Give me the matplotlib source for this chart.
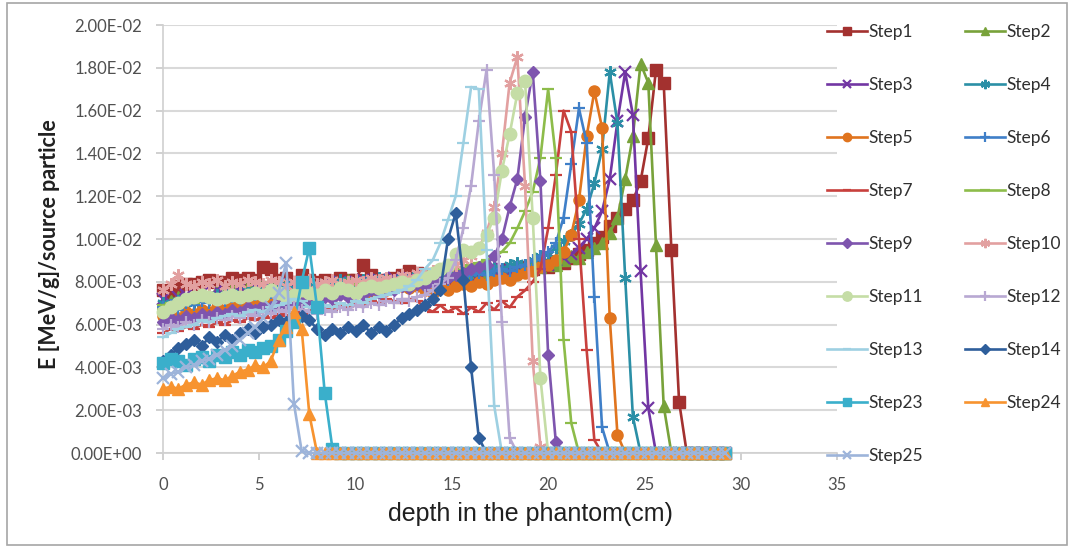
import matplotlib
matplotlib.use("Agg")
import matplotlib.pyplot as plt
from matplotlib.ticker import FuncFormatter, MultipleLocator
from matplotlib.patches import Rectangle
import numpy as np

# depth grid (cm)
depth_cm = [0.0, 0.4, 0.8, 1.2, 1.6, 2.0, 2.4, 2.8, 3.2, 3.6,
            4.0, 4.4, 4.8, 5.2, 5.6, 6.0, 6.4, 6.8, 7.2, 7.6,
            8.0, 8.4, 8.8, 9.2, 9.6, 10.0, 10.4, 10.8, 11.2, 11.6,
            12.0, 12.4, 12.8, 13.2, 13.6, 14.0, 14.4, 14.8, 15.2, 15.6,
            16.0, 16.4, 16.8, 17.2, 17.6, 18.0, 18.4, 18.8, 19.2, 19.6,
            20.0, 20.4, 20.8, 21.2, 21.6, 22.0, 22.4, 22.8, 23.2, 23.6,
            24.0, 24.4, 24.8, 25.2, 25.6, 26.0, 26.4, 26.8, 27.2, 27.6,
            28.0, 28.4, 28.8, 29.2]

# energy deposit, in units of 1E-03 MeV/g per source particle
step1 = [7.6, 7.5, 7.8, 7.9, 7.9, 8.0, 8.1, 8.0, 8.0, 8.2,
         8.1, 8.2, 8.1, 8.7, 8.6, 8.1, 8.2, 8.0, 8.3, 8.1,
         8.0, 8.1, 8.0, 8.2, 8.1, 8.1, 8.8, 8.3, 8.0, 8.1,
         8.2, 8.3, 8.5, 8.4, 8.2, 8.3, 8.2, 8.3, 8.2, 8.3,
         8.3, 8.4, 8.3, 8.5, 8.4, 8.6, 8.5, 8.7, 8.6, 8.8,
         8.7, 8.9, 8.9, 9.1, 9.3, 9.5, 9.8, 10.1, 10.6, 11.0,
         11.4, 11.8, 12.7, 14.7, 17.9, 17.3, 9.5, 2.4, 0, 0,
         0, 0, 0, 0]
step2 = [7.0, 7.1, 7.3, 7.2, 7.4, 7.5, 7.4, 7.6, 7.5, 7.7,
         7.6, 7.8, 7.7, 7.9, 7.8, 7.7, 7.9, 7.8, 8.0, 7.9,
         7.8, 7.9, 8.0, 7.9, 8.1, 8.0, 8.0, 8.1, 8.0, 8.2,
         8.1, 8.2, 8.1, 8.2, 8.3, 8.2, 8.3, 8.4, 8.3, 8.4,
         8.4, 8.5, 8.4, 8.6, 8.5, 8.7, 8.6, 8.7, 8.8, 8.7,
         8.9, 8.8, 9.0, 9.2, 9.1, 9.4, 9.6, 9.8, 10.3, 11.0,
         12.8, 14.8, 18.2, 17.3, 9.7, 2.2, 0, 0, 0, 0,
         0, 0, 0, 0]
step3 = [7.2, 7.0, 7.3, 7.4, 7.2, 7.5, 7.3, 7.6, 7.4, 7.5,
         7.7, 7.5, 7.8, 7.6, 7.7, 7.9, 7.6, 7.8, 7.7, 7.9,
         7.8, 7.7, 7.9, 8.0, 7.8, 8.0, 8.1, 7.9, 8.1, 8.0,
         8.2, 8.1, 8.2, 8.0, 8.3, 8.2, 8.3, 8.2, 8.4, 8.3,
         8.4, 8.3, 8.5, 8.4, 8.6, 8.5, 8.6, 8.7, 8.6, 8.8,
         8.8, 9.0, 9.1, 9.3, 9.6, 10.0, 10.5, 11.3, 12.8, 15.5,
         17.8, 15.8, 8.5, 2.1, 0, 0, 0, 0, 0, 0,
         0, 0, 0, 0]
step4 = [7.0, 6.9, 7.1, 7.2, 7.0, 7.3, 7.2, 7.4, 7.3, 7.5,
         7.4, 7.6, 7.5, 7.7, 7.6, 7.8, 7.9, 7.7, 7.8, 7.9,
         7.8, 8.0, 7.9, 8.1, 8.0, 7.9, 8.1, 8.0, 8.2, 8.1,
         8.0, 8.2, 8.1, 8.3, 8.2, 8.3, 8.4, 8.3, 8.4, 8.5,
         8.4, 8.6, 8.5, 8.7, 8.6, 8.8, 8.9, 8.8, 9.0, 9.2,
         9.3, 9.6, 9.9, 10.2, 10.7, 11.4, 12.6, 14.2, 17.8, 15.4,
         8.2, 1.7, 0, 0, 0, 0, 0, 0, 0, 0,
         0, 0, 0, 0]
step5 = [6.4, 6.5, 6.3, 6.6, 6.5, 6.7, 6.6, 6.8, 6.7, 6.9,
         6.8, 7.0, 6.9, 7.1, 7.0, 7.2, 7.1, 7.3, 7.2, 7.3,
         7.2, 7.4, 7.3, 7.5, 7.4, 7.5, 7.6, 7.5, 7.7, 7.6,
         7.7, 7.8, 7.7, 7.8, 7.6, 7.5, 7.7, 7.6, 7.8, 7.9,
         7.8, 8.0, 7.9, 8.1, 8.2, 8.1, 8.3, 8.4, 8.5, 8.7,
         8.8, 9.0, 9.4, 10.2, 11.8, 14.8, 16.9, 15.2, 6.3, 0.85,
         0, 0, 0, 0, 0, 0, 0, 0, 0, 0,
         0, 0, 0, 0]
step6 = [6.8, 6.9, 6.7, 7.0, 6.9, 7.1, 7.0, 7.2, 7.1, 7.3,
         7.2, 7.3, 7.4, 7.2, 7.5, 7.4, 7.6, 7.5, 7.4, 7.6,
         7.5, 7.7, 7.6, 7.8, 7.7, 7.6, 7.8, 7.7, 7.9, 7.8,
         7.9, 8.0, 7.9, 8.0, 8.1, 8.0, 8.2, 8.1, 8.3, 8.2,
         8.3, 8.4, 8.3, 8.5, 8.6, 8.5, 8.7, 8.8, 9.0, 9.2,
         9.4, 9.8, 11.0, 13.5, 16.1, 14.5, 7.3, 1.2, 0, 0,
         0, 0, 0, 0, 0, 0, 0, 0, 0, 0,
         0, 0, 0, 0]
step7 = [5.6, 5.8, 5.7, 5.9, 5.8, 6.0, 5.9, 6.1, 6.0, 6.2,
         6.1, 6.3, 6.2, 6.4, 6.3, 6.5, 6.4, 6.6, 6.5, 6.7,
         6.6, 6.8, 6.7, 6.9, 6.8, 7.0, 6.9, 7.1, 7.0, 7.2,
         7.1, 7.0, 7.2, 7.1, 6.8, 6.6, 6.9, 6.6, 6.8, 6.5,
         6.8, 6.6, 7.0, 6.7, 7.1, 6.8, 7.3, 7.6, 8.0, 8.6,
         10.5, 13.0, 16.0, 15.0, 10.0, 4.8, 0.6, 0, 0, 0,
         0, 0, 0, 0, 0, 0, 0, 0, 0, 0,
         0, 0, 0, 0]
step8 = [6.9, 7.0, 6.8, 7.1, 7.0, 7.2, 7.1, 7.3, 7.2, 7.4,
         7.3, 7.5, 7.4, 7.6, 7.5, 7.4, 7.6, 7.5, 7.7, 7.6,
         7.7, 7.8, 7.6, 7.8, 7.7, 7.9, 7.8, 8.0, 7.9, 8.1,
         8.0, 8.1, 8.2, 8.1, 8.3, 8.2, 8.4, 8.5, 8.6, 8.7,
         8.8, 8.9, 9.0, 9.2, 9.4, 9.8, 10.5, 11.3, 12.2, 13.8,
         17.0, 13.8, 5.3, 1.4, 0, 0, 0, 0, 0, 0,
         0, 0, 0, 0, 0, 0, 0, 0, 0, 0,
         0, 0, 0, 0]
step9 = [6.1, 6.3, 6.2, 6.4, 6.3, 6.5, 6.4, 6.6, 6.5, 6.7,
         6.6, 6.8, 6.7, 6.9, 6.8, 7.0, 6.9, 7.1, 7.0, 7.2,
         7.1, 7.3, 7.2, 7.4, 7.3, 7.5, 7.4, 7.6, 7.5, 7.7,
         7.6, 7.8, 7.7, 7.9, 7.8, 8.0, 8.1, 8.2, 8.3, 8.4,
         8.6, 8.7, 8.8, 9.2, 10.0, 11.5, 12.8, 15.7, 17.8, 12.7,
         4.6, 0.5, 0, 0, 0, 0, 0, 0, 0, 0,
         0, 0, 0, 0, 0, 0, 0, 0, 0, 0,
         0, 0, 0, 0]
step10 = [7.6, 7.9, 8.3, 7.9, 7.8, 8.0, 7.9, 8.1, 7.8, 8.0,
          7.9, 8.1, 8.0, 7.9, 8.1, 8.0, 7.8, 8.0, 7.9, 8.1,
          7.9, 8.0, 8.1, 7.9, 8.0, 8.1, 8.0, 8.2, 8.1, 8.2,
          8.1, 8.3, 8.2, 8.4, 8.3, 8.5, 8.6, 8.7, 8.8, 9.0,
          9.2, 9.6, 10.3, 11.5, 14.0, 17.3, 18.5, 12.5, 4.3, 0.3,
          0, 0, 0, 0, 0, 0, 0, 0, 0, 0,
          0, 0, 0, 0, 0, 0, 0, 0, 0, 0,
          0, 0, 0, 0]
step11 = [6.6, 6.8, 7.0, 7.2, 7.3, 7.4, 7.3, 7.2, 7.3, 7.4,
          7.3, 7.4, 7.5, 7.4, 7.6, 7.5, 7.3, 7.4, 7.6, 7.5,
          7.4, 7.6, 7.5, 7.7, 7.6, 7.5, 7.7, 7.8, 7.7, 7.8,
          7.9, 8.0, 7.9, 8.1, 8.2, 8.4, 8.6, 8.8, 9.3, 9.5,
          9.4, 9.6, 10.2, 11.0, 13.2, 14.9, 16.8, 17.4, 11.0, 3.5,
          0, 0, 0, 0, 0, 0, 0, 0, 0, 0,
          0, 0, 0, 0, 0, 0, 0, 0, 0, 0,
          0, 0, 0, 0]
step12 = [5.8, 6.0, 5.9, 6.1, 6.0, 6.2, 6.1, 6.3, 6.2, 6.4,
          6.3, 6.5, 6.4, 6.6, 6.5, 6.7, 6.6, 6.8, 6.7, 6.6,
          6.5, 6.7, 6.6, 6.8, 6.7, 6.9, 6.8, 7.0, 6.9, 7.1,
          7.0, 7.2, 7.1, 7.3, 7.4, 7.6, 7.9, 8.2, 9.0, 10.5,
          12.5, 15.5, 17.9, 13.0, 6.1, 0.7, 0, 0, 0, 0,
          0, 0, 0, 0, 0, 0, 0, 0, 0, 0,
          0, 0, 0, 0, 0, 0, 0, 0, 0, 0,
          0, 0, 0, 0]
step13 = [5.4, 5.6, 5.8, 5.9, 6.0, 6.2, 6.1, 6.3, 6.4, 6.5,
          6.4, 6.6, 6.7, 6.6, 6.8, 6.9, 7.0, 7.2, 7.1, 6.8,
          6.7, 6.9, 6.8, 7.0, 6.9, 7.1, 7.0, 7.2, 7.3, 7.4,
          7.5, 7.6, 7.8, 8.1, 8.6, 9.0, 9.8, 10.9, 12.0, 14.5,
          17.1, 17.0, 9.5, 2.2, 0, 0, 0, 0, 0, 0,
          0, 0, 0, 0, 0, 0, 0, 0, 0, 0,
          0, 0, 0, 0, 0, 0, 0, 0, 0, 0,
          0, 0, 0, 0]
step14 = [4.3, 4.6, 4.9, 5.1, 5.3, 5.0, 5.4, 5.2, 5.5, 5.3,
          5.6, 5.8, 5.6, 5.9, 6.0, 6.2, 6.1, 6.3, 6.4, 6.2,
          5.8, 5.5, 5.8, 5.6, 5.9, 5.7, 6.0, 5.6, 5.9, 5.7,
          6.0, 6.3, 6.5, 6.7, 6.9, 7.2, 7.6, 10.0, 11.2, 8.1,
          4.0, 0.7, 0, 0, 0, 0, 0, 0, 0, 0,
          0, 0, 0, 0, 0, 0, 0, 0, 0, 0,
          0, 0, 0, 0, 0, 0, 0, 0, 0, 0,
          0, 0, 0, 0]
step23 = [4.2, 4.4, 4.3, 4.1, 4.4, 4.5, 4.3, 4.6, 4.5, 4.7,
          4.6, 4.8, 4.7, 4.9, 5.0, 5.3, 5.7, 6.1, 8.0, 9.6,
          6.8, 2.8, 0.2, 0, 0, 0, 0, 0, 0, 0,
          0, 0, 0, 0, 0, 0, 0, 0, 0, 0,
          0, 0, 0, 0, 0, 0, 0, 0, 0, 0,
          0, 0, 0, 0, 0, 0, 0, 0, 0, 0,
          0, 0, 0, 0, 0, 0, 0, 0, 0, 0,
          0, 0, 0, 0]
step24 = [3.0, 3.1, 3.0, 3.2, 3.3, 3.2, 3.4, 3.5, 3.4, 3.6,
          3.8, 3.9, 4.1, 4.0, 4.3, 5.3, 5.9, 6.6, 5.8, 1.8,
          0, 0, 0, 0, 0, 0, 0, 0, 0, 0,
          0, 0, 0, 0, 0, 0, 0, 0, 0, 0,
          0, 0, 0, 0, 0, 0, 0, 0, 0, 0,
          0, 0, 0, 0, 0, 0, 0, 0, 0, 0,
          0, 0, 0, 0, 0, 0, 0, 0, 0, 0,
          0, 0, 0, 0]
step25 = [3.5, 3.7, 3.8, 4.0, 4.1, 4.3, 4.4, 4.6, 4.8, 5.0,
          5.3, 5.6, 5.9, 6.3, 6.8, 7.5, 8.9, 2.3, 0.1, 0,
          0, 0, 0, 0, 0, 0, 0, 0, 0, 0,
          0, 0, 0, 0, 0, 0, 0, 0, 0, 0,
          0, 0, 0, 0, 0, 0, 0, 0, 0, 0,
          0, 0, 0, 0, 0, 0, 0, 0, 0, 0,
          0, 0, 0, 0, 0, 0, 0, 0, 0, 0,
          0, 0, 0, 0]

series_names = ["Step1", "Step2", "Step3", "Step4", "Step5", "Step6", "Step7",
                "Step8", "Step9", "Step10", "Step11", "Step12", "Step13",
                "Step14", "Step23", "Step24", "Step25"]
series_values = [step1, step2, step3, step4, step5, step6, step7, step8, step9,
                 step10, step11, step12, step13, step14, step23, step24, step25]

# styles
colors = ["#A3312F", "#78A23A", "#7236A3", "#2B8FA6", "#E0741E", "#3F7FC8",
          "#C8403D", "#8DBC4A", "#7E55AE", "#E2A0A0", "#C5DDA6", "#B8A8D2",
          "#9ED0E2", "#2E5E9B", "#3AAFCB", "#F7932F", "#9DB4DA"]
markers = ["s", "^", "x", (6, 2, 0), "o", "+", "_", "_", "D", (6, 2, 0), "o",
           "+", "_", "D", "s", "^", "x"]
msizes = [8, 8, 8, 9, 8, 9, 8, 9, 6.5, 9, 9, 9, 8, 6.5, 8, 8, 8]

plt.rcParams['font.family'] = ['Lato', 'DejaVu Sans']

W, H = 1074, 547
fig = plt.figure(figsize=(W / 100, H / 100), dpi=100)
fig.patch.set_facecolor("white")
fig.add_artist(Rectangle((7 / W, 2 / H), (1067 - 7) / W, (544 - 2) / H,
                         transform=fig.transFigure, fill=False,
                         edgecolor="#A6A6A6", lw=1.2))

ax = fig.add_axes([163 / W, 1 - 453 / H, (837 - 163) / W, (453 - 25) / H])
x = np.array(depth_cm)
handles = []
for name, vals, c, m, ms in zip(series_names, series_values, colors, markers, msizes):
    y = np.array(vals) * 1e-3
    mew = 1.6 if m in ("x", "+", "_") or isinstance(m, tuple) else 1.0
    (h,) = ax.plot(x, y, color=c, lw=1.9, marker=m, ms=ms, mfc=c, mec=c,
                   mew=mew, label=name, clip_on=False, zorder=3)
    handles.append(h)

ax.set_xlim(0, 35)
ax.set_ylim(0, 0.02)
ax.xaxis.set_major_locator(MultipleLocator(5))
ax.yaxis.set_major_locator(MultipleLocator(0.002))
ax.yaxis.set_major_formatter(FuncFormatter(lambda v, p: f"{v:.2E}"))
ax.grid(axis="y", color="#D9D9D9", lw=1.5, zorder=0)
ax.set_axisbelow(True)
for s in ("top", "right"):
    ax.spines[s].set_visible(False)
for s in ("left", "bottom"):
    ax.spines[s].set_color("#D0D0D0")
    ax.spines[s].set_linewidth(1.2)
ax.tick_params(axis="both", colors="#C8C8C8", length=5, width=1.2,
               labelcolor="#505050", labelsize=12)
ax.tick_params(axis="x", pad=12)
ax.tick_params(axis="y", pad=10)

ax.set_xlabel("depth in the phantom(cm)", fontsize=18, family="Liberation Sans",
              color="#202020")
ax.xaxis.set_label_coords((530 - 163) / 674, (453 - 514) / 428)
ax.xaxis.label.set_va("center")
ax.set_ylabel("E [MeV/g]/source particle", fontsize=15.5, fontweight="bold",
              color="#202020")
ax.yaxis.set_label_coords((49 - 163) / 674, (453 - 244) / 428)
ax.yaxis.label.set_va("center")

order = list(range(0, 17, 2)) + list(range(1, 17, 2))
leg = fig.legend([handles[i] for i in order], [series_names[i] for i in order],
                 ncol=2, loc="upper left", bbox_to_anchor=(820 / W, 1 - 17 / H),
                 frameon=False, fontsize=12.5, handlelength=2.3,
                 handletextpad=0.1, columnspacing=2.4, labelspacing=2.13,
                 markerscale=0.75, borderaxespad=0)
for t in leg.get_texts():
    t.set_color("#303030")

fig.savefig("out.png", dpi=100)
